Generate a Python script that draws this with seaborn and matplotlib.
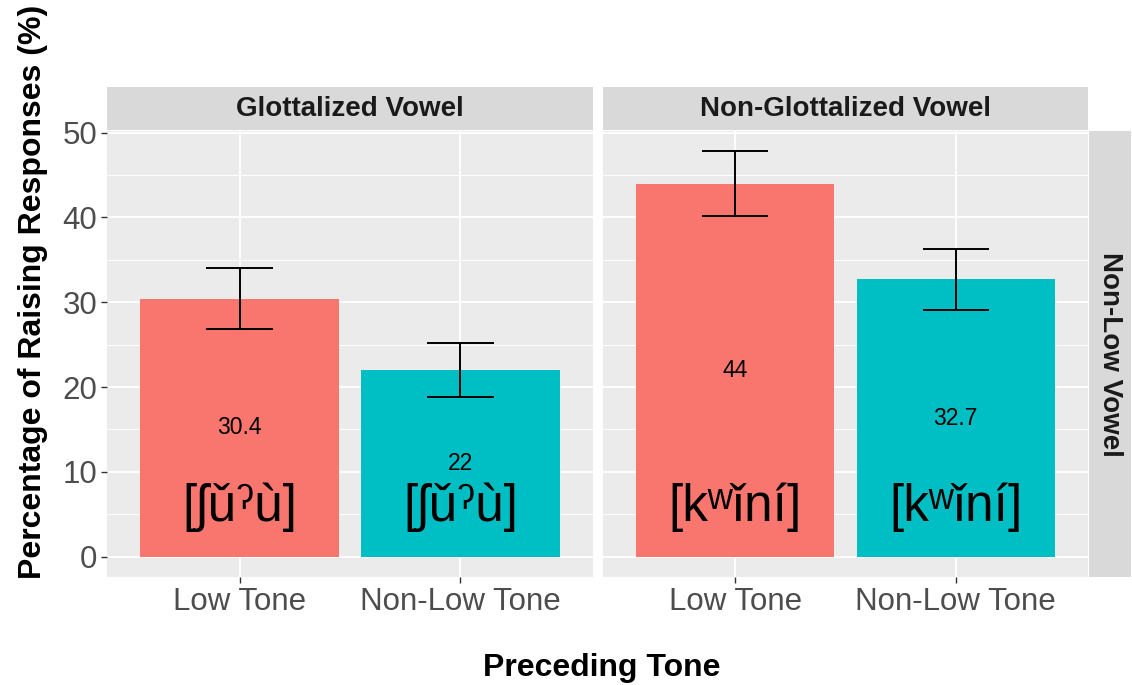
import numpy as np
import pandas as pd
import matplotlib.pyplot as plt
import seaborn as sns
from matplotlib.ticker import MultipleLocator

"""bar chart of raising responses by preceding tone, faceted by vowel type"""

panels = ['Glottalized Vowel', 'Non-Glottalized Vowel']
row_strip = 'Non-Low Vowel'
tones = ['Low Tone', 'Non-Low Tone']
pct = [[30.4, 22.0], [44.0, 32.7]]
ci_low = [[26.8, 18.8], [40.2, 29.1]]
ci_high = [[34.0, 25.2], [47.8, 36.3]]
value_labels = [['30.4', '22'], ['44', '32.7']]
ipa = ['[ʃǔˀù]', '[kʷǐní]']
colors = ['#F8766D', '#00BFC4']

W, H = 1132, 685


def px_rect(x0, y0, x1, y1):
    """convert pixel box (top-left origin) to figure fraction"""
    return [x0 / W, 1 - y1 / H, (x1 - x0) / W, (y1 - y0) / H]


def main():
    sns.set_theme(style='darkgrid', rc={'axes.facecolor': '#EBEBEB', 'grid.color': 'white'})
    plt.rcParams['font.family'] = ['Liberation Sans', 'DejaVu Sans']

    fig = plt.figure(figsize=(W / 100, H / 100), dpi=100)
    fig.patch.set_facecolor('white')

    lefts = [107, 603]
    rights = [593, 1088]
    top, bottom = 131, 577
    ymin, ymax = -2.39, 50.19

    for p, name in enumerate(panels):
        ax = fig.add_axes(px_rect(lefts[p], top, rights[p], bottom))
        df = pd.DataFrame({'tone': tones, 'pct': pct[p]})
        sns.barplot(data=df, x='tone', y='pct', hue='tone', palette=colors,
                    width=0.9, ax=ax, legend=False, saturation=1, linewidth=0, zorder=2)
        # error bars
        for i in range(len(tones)):
            ax.vlines(i, ci_low[p][i], ci_high[p][i], color='black', lw=1.4, zorder=3)
            ax.hlines([ci_low[p][i], ci_high[p][i]], i - 0.15, i + 0.15,
                      color='black', lw=1.4, zorder=3)
            ax.text(i, pct[p][i] / 2, value_labels[p][i], ha='center', va='center',
                    fontsize=16.5, color='black', zorder=4)
            ax.text(i, 5.8, ipa[p], ha='center', va='center', fontsize=37,
                    color='black', zorder=4)

        ax.set_xlim(-0.6, 1.6)
        ax.set_ylim(ymin, ymax)
        ax.set_yticks([0, 10, 20, 30, 40, 50])
        ax.yaxis.set_minor_locator(MultipleLocator(5))
        ax.grid(which='major', color='white', lw=1.3)
        ax.grid(which='minor', axis='y', color='white', lw=0.7)
        ax.set_axisbelow(True)
        for s in ax.spines.values():
            s.set_visible(False)
        ax.set_xlabel('')
        ax.set_ylabel('')
        ax.tick_params(axis='both', which='major', length=4, width=1, color='#333333',
                       labelsize=22.5, labelcolor='#4D4D4D', pad=3, bottom=True, left=(p == 0))
        ax.tick_params(axis='both', which='minor', length=0)
        if p > 0:
            ax.set_yticklabels([])

        # top strip
        sx = fig.add_axes(px_rect(lefts[p], 87, rights[p], 130))
        sx.set_facecolor('#D9D9D9')
        sx.set_xticks([])
        sx.set_yticks([])
        for s in sx.spines.values():
            s.set_visible(False)
        sx.text(0.5, 0.5, name, ha='center', va='center', fontsize=20,
                fontweight='bold', color='#1A1A1A', transform=sx.transAxes)

    # right strip
    rx = fig.add_axes(px_rect(1089, top, 1131, bottom))
    rx.set_facecolor('#D9D9D9')
    rx.set_xticks([])
    rx.set_yticks([])
    for s in rx.spines.values():
        s.set_visible(False)
    rx.text(0.5, 0.5, row_strip, ha='center', va='center', rotation=-90, fontsize=20,
            fontweight='bold', color='#1A1A1A', transform=rx.transAxes)

    fig.text(602 / W, 1 - 668 / H, 'Preceding Tone', ha='center', va='center',
             fontsize=23, fontweight='bold', color='black')
    fig.text(33 / W, 1 - 292 / H, 'Percentage of Raising Responses (%)', ha='center',
             va='center', rotation=90, fontsize=23, fontweight='bold', color='black')

    fig.savefig('out.png', dpi=100)
    plt.close()


main()
